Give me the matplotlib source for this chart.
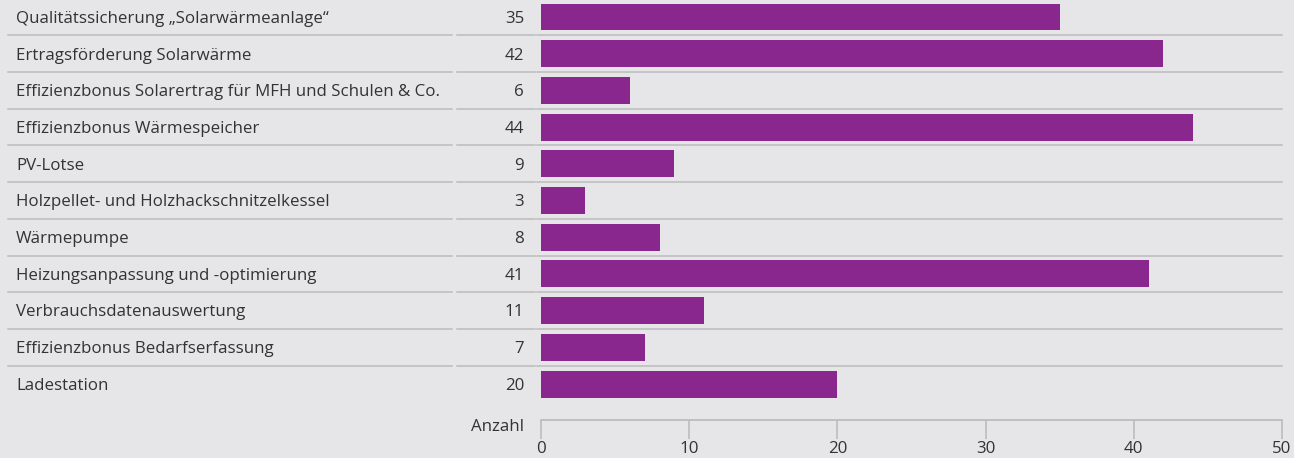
import matplotlib.pyplot as plt
from matplotlib.lines import Line2D
from matplotlib.transforms import blended_transform_factory

plt.rcParams["font.family"] = ["Open Sans", "DejaVu Sans"]

# =========================
# DATA
# =========================

categories = [
    "Qualitätssicherung „Solarwärmeanlage“",
    "Ertragsförderung Solarwärme",
    "Effizienzbonus Solarertrag für MFH und Schulen & Co.",
    "Effizienzbonus Wärmespeicher",
    "PV-Lotse",
    "Holzpellet- und Holzhackschnitzelkessel",
    "Wärmepumpe",
    "Heizungsanpassung und -optimierung",
    "Verbrauchsdatenauswertung",
    "Effizienzbonus Bedarfserfassung",
    "Ladestation",
]

counts = [35, 42, 6, 44, 9, 3, 8, 41, 11, 7, 20]

x_ticks = [0, 10, 20, 30, 40, 50]

BG = "#e6e6e8"
BAR = "#8a278f"
LINE = "#bcbcbe"
TEXT = "#333333"
FS = 12.2

W, H = 1294, 458

fig = plt.figure(figsize=(W / 100, H / 100), dpi=100, facecolor=BG)

# bar area: x from 541 px to 1282 px, y from top down to axis line at 420 px
ax = fig.add_axes([541 / W, (H - 420) / H, (1282 - 541) / W, 420 / H])
ax.set_facecolor(BG)

rows = list(range(len(categories)))

ax.barh(rows, counts, height=0.735, color=BAR, edgecolor="none", zorder=3)

ax.set_xlim(0, 50)
ax.set_ylim(10.98, -0.463)

ax.set_xticks(x_ticks)
ax.set_xticklabels([str(t) for t in x_ticks], fontsize=FS, color=TEXT)
ax.tick_params(axis="x", direction="out", length=14, width=1.2, color=LINE, pad=1)
ax.set_yticks([])

for side in ["top", "right", "left"]:
    ax.spines[side].set_visible(False)

ax.spines["bottom"].set_color(LINE)
ax.spines["bottom"].set_linewidth(1.3)

trans = blended_transform_factory(fig.transFigure, ax.transData)

# row separators, split into label / value / bar columns
segments = [(8 / W, 452 / W), (457 / W, 535 / W), (537 / W, 1282 / W)]

for i in rows[:-1]:

    for x0, x1 in segments:

        fig.add_artist(
            Line2D(
                [x0, x1],
                [i + 0.5, i + 0.5],
                transform=trans,
                color=LINE,
                linewidth=1.1,
            )
        )

# small downward nudge so the text sits on the bar centre
dy = 0.05

for i, (name, value) in enumerate(zip(categories, counts)):

    fig.text(
        16 / W, i + dy, name,
        transform=trans,
        ha="left", va="center",
        fontsize=FS, color=TEXT,
    )

    fig.text(
        524 / W, i + dy, str(value),
        transform=trans,
        ha="right", va="center",
        fontsize=FS, color=TEXT,
    )

fig.text(
    524 / W, (H - 427) / H, "Anzahl",
    ha="right", va="center",
    fontsize=FS, color=TEXT,
)

fig.savefig("out.png", dpi=100, facecolor=BG)
